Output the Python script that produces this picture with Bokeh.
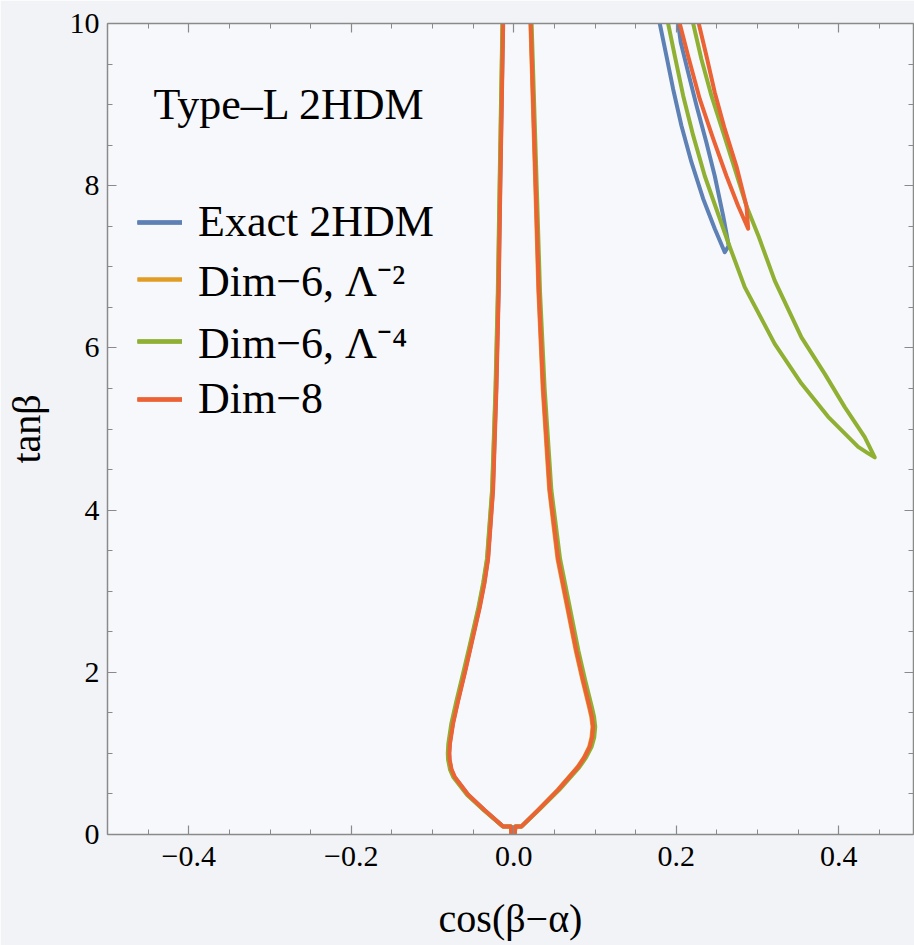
from bokeh.plotting import figure
from bokeh.models import FixedTicker, LinearAxis, Legend, LegendItem, Label, Range1d
from bokeh.embed import file_html
from bokeh.resources import INLINE

# ---------------- data ----------------
SERIES = ["Exact 2HDM", "Dim\u22126, \u039b\u207b\u00b2", "Dim\u22126, \u039b\u207b\u2074", "Dim\u22128"]
COLORS = ["#5E81B5", "#E19C24", "#8FB032", "#EB6235"]

FUNNEL_LEFT_TANB = [10, 8, 6.7, 5.5, 4.25, 3.4, 3.1, 2.8, 2.35, 2.0, 1.65, 1.37, 1.12, 1.0, 0.92, 0.8, 0.71, 0.49, 0.30, 0.1, 0.1, 0]
FUNNEL_LEFT_EXACT = [-0.0132, -0.0167, -0.0187, -0.0216, -0.0257, -0.0318, -0.0364, -0.0422, -0.0524, -0.0604, -0.0688, -0.0750, -0.0789, -0.0796, -0.0792, -0.0769, -0.0730, -0.0563, -0.0359, -0.0131, -0.0035, -0.0028]
FUNNEL_LEFT_D6L2 = [-0.0138, -0.0172, -0.0193, -0.0222, -0.0264, -0.0326, -0.0372, -0.0430, -0.0532, -0.0612, -0.0697, -0.0760, -0.0797, -0.0804, -0.0800, -0.0777, -0.0738, -0.0570, -0.0363, -0.0133, -0.0035, -0.0028]
FUNNEL_LEFT_D6L4 = [-0.0140, -0.0175, -0.0196, -0.0225, -0.0267, -0.0330, -0.0377, -0.0435, -0.0538, -0.0620, -0.0705, -0.0768, -0.0805, -0.0812, -0.0808, -0.0784, -0.0745, -0.0575, -0.0368, -0.0135, -0.0035, -0.0028]
FUNNEL_LEFT_D8 = [-0.0130, -0.0165, -0.0185, -0.0213, -0.0254, -0.0315, -0.0360, -0.0418, -0.0520, -0.0600, -0.0684, -0.0746, -0.0785, -0.0792, -0.0788, -0.0765, -0.0726, -0.0560, -0.0357, -0.0130, -0.0035, -0.0028]

FUNNEL_RIGHT_TANB = [10, 8, 6.7, 5.5, 4.25, 3.4, 2.8, 2.27, 1.9, 1.57, 1.45, 1.33, 1.2, 1.08, 0.95, 0.83, 0.55, 0.30, 0.1, 0.1, 0]
FUNNEL_RIGHT_EXACT = [0.0212, 0.0273, 0.0312, 0.0367, 0.0449, 0.0553, 0.0673, 0.0778, 0.0863, 0.0944, 0.0971, 0.0986, 0.0974, 0.0943, 0.0877, 0.0796, 0.0551, 0.0303, 0.0096, 0.0020, 0.0012]
FUNNEL_RIGHT_D6L2 = [0.0205, 0.0265, 0.0303, 0.0356, 0.0436, 0.0538, 0.0657, 0.0762, 0.0846, 0.0927, 0.0954, 0.0969, 0.0957, 0.0928, 0.0864, 0.0784, 0.0541, 0.0297, 0.0094, 0.0020, 0.0012]
FUNNEL_RIGHT_D6L4 = [0.0220, 0.0283, 0.0323, 0.0380, 0.0463, 0.0570, 0.0690, 0.0795, 0.0880, 0.0962, 0.0989, 0.1003, 0.0991, 0.0958, 0.0891, 0.0808, 0.0560, 0.0308, 0.0098, 0.0020, 0.0012]
FUNNEL_RIGHT_D8 = [0.0209, 0.0270, 0.0308, 0.0362, 0.0443, 0.0546, 0.0665, 0.0770, 0.0854, 0.0935, 0.0962, 0.0977, 0.0965, 0.0935, 0.0870, 0.0790, 0.0546, 0.0300, 0.0095, 0.0020, 0.0012]

ISLAND_EXACT_X = [0.1797, 0.1879, 0.1962, 0.2064, 0.2187, 0.2331, 0.2474, 0.2597, 0.2646, 0.2577, 0.2474, 0.2372, 0.2249, 0.2146, 0.2055, 0.2023]
ISLAND_EXACT_Y = [10.0, 9.60, 9.19, 8.74, 8.29, 7.84, 7.47, 7.18, 7.26, 7.63, 8.12, 8.53, 8.99, 9.40, 9.77, 10.0]
ISLAND_D6L4_X = [0.1900, 0.1982, 0.2085, 0.2208, 0.2351, 0.2495, 0.2639, 0.2843, 0.3212, 0.3541, 0.3870, 0.4239, 0.4362, 0.4443,
                 0.4320, 0.4074, 0.3828, 0.3541, 0.3212, 0.3008, 0.2864, 0.2720, 0.2577, 0.2433, 0.2310, 0.2208]
ISLAND_D6L4_Y = [10.0, 9.60, 9.11, 8.62, 8.12, 7.71, 7.30, 6.75, 6.05, 5.56, 5.15, 4.78, 4.70, 4.65,
                 4.90, 5.27, 5.68, 6.13, 6.83, 7.39, 7.75, 8.21, 8.66, 9.11, 9.56, 10.0]
ISLAND_D8_X = [0.2043, 0.2146, 0.2289, 0.2454, 0.2618, 0.2762, 0.2885, 0.2864, 0.2741, 0.2597, 0.2474, 0.2372, 0.2277]
ISLAND_D8_Y = [10.0, 9.60, 9.07, 8.58, 8.12, 7.75, 7.47, 7.75, 8.24, 8.70, 9.15, 9.60, 10.0]

X_MAJOR = [-0.4, -0.2, 0.0, 0.2, 0.4]
X_MAJOR_LABELS = ["\u22120.4", "\u22120.2", "0.0", "0.2", "0.4"]
X_MINOR = [-0.5, -0.45, -0.35, -0.3, -0.25, -0.15, -0.1, -0.05, 0.05, 0.1, 0.15, 0.25, 0.3, 0.35, 0.45]
Y_MAJOR = [0, 2, 4, 6, 8, 10]
Y_MAJOR_LABELS = ["0", "2", "4", "6", "8", "10"]
Y_MINOR = [0.5, 1, 1.5, 2.5, 3, 3.5, 4.5, 5, 5.5, 6.5, 7, 7.5, 8.5, 9, 9.5]

FONT = "Liberation Serif"
AXIS_COLOR = "#8a8a8a"

p = figure(width=914, height=945, x_range=Range1d(-0.5, 0.492), y_range=Range1d(0, 10),
           output_backend="svg", toolbar_location=None,
           min_border_left=107, min_border_right=1, min_border_top=23, min_border_bottom=111,
           background_fill_color="#f7f8fb", border_fill_color="#f2f3f6")
p.grid.visible = False
p.outline_line_color = None

def style_ticks(ax):
    ax.axis_line_color = AXIS_COLOR
    ax.axis_line_width = 1.5
    ax.major_tick_line_color = AXIS_COLOR
    ax.minor_tick_line_color = AXIS_COLOR
    ax.major_tick_line_width = 1.2
    ax.minor_tick_line_width = 1.0
    ax.major_tick_in = 9
    ax.major_tick_out = 0
    ax.minor_tick_in = 5
    ax.minor_tick_out = 0

def style_axis(ax, ticks, minor, labels):
    ax.ticker = FixedTicker(ticks=ticks, minor_ticks=minor)
    style_ticks(ax)
    ax.major_label_overrides = {t: s for t, s in zip(ticks, labels)}
    ax.major_label_text_font = FONT
    ax.major_label_text_font_size = "30px"
    ax.major_label_text_color = "black"

def add_frame_side(side, major, minor):
    a1 = LinearAxis(ticker=FixedTicker(ticks=[], minor_ticks=major))
    style_ticks(a1)
    a1.minor_tick_in = 9
    a1.minor_tick_line_width = 1.2
    a2 = LinearAxis(ticker=FixedTicker(ticks=[], minor_ticks=minor))
    style_ticks(a2)
    a2.axis_line_color = None
    p.add_layout(a1, side)
    p.add_layout(a2, side)

style_axis(p.xaxis[0], X_MAJOR, X_MINOR, X_MAJOR_LABELS)
style_axis(p.yaxis[0], Y_MAJOR, Y_MINOR, Y_MAJOR_LABELS)
p.xaxis[0].major_label_standoff = 12
p.yaxis[0].major_label_standoff = 8

p.xaxis[0].axis_label = "cos(\u03b2\u2212\u03b1)"
p.yaxis[0].axis_label = "tan\u03b2"
for ax in (p.xaxis[0], p.yaxis[0]):
    ax.axis_label_text_font = FONT
    ax.axis_label_text_font_size = "40px"
    ax.axis_label_text_font_style = "normal"
    ax.axis_label_text_color = "black"
p.xaxis[0].axis_label_standoff = 27
p.yaxis[0].axis_label_standoff = 18

add_frame_side("above", X_MAJOR, X_MINOR)
add_frame_side("right", Y_MAJOR, Y_MINOR)

left_x = [FUNNEL_LEFT_EXACT, FUNNEL_LEFT_D6L2, FUNNEL_LEFT_D6L4, FUNNEL_LEFT_D8]
right_x = [FUNNEL_RIGHT_EXACT, FUNNEL_RIGHT_D6L2, FUNNEL_RIGHT_D6L4, FUNNEL_RIGHT_D8]
islands = [(ISLAND_EXACT_X, ISLAND_EXACT_Y), None, (ISLAND_D6L4_X, ISLAND_D6L4_Y), (ISLAND_D8_X, ISLAND_D8_Y)]

LW = 4
items = []
for i, (name, col) in enumerate(zip(SERIES, COLORS)):
    rs = [p.line(left_x[i], FUNNEL_LEFT_TANB, line_color=col, line_width=LW, line_join="round"),
          p.line(right_x[i], FUNNEL_RIGHT_TANB, line_color=col, line_width=LW, line_join="round")]
    if islands[i] is not None:
        rs.append(p.line(islands[i][0], islands[i][1], line_color=col, line_width=LW, line_join="round"))
    items.append(LegendItem(label=name, renderers=rs))

legend = Legend(items=items, location=(30, 410), padding=0, margin=0, spacing=2,
                glyph_width=45, glyph_height=40, label_height=40, label_standoff=16,
                label_text_font=FONT, label_text_font_size="44px", label_text_color="black",
                background_fill_alpha=0, border_line_alpha=0)
p.add_layout(legend)

title = Label(x=-0.4435, y=9.0, text="Type\u2013L 2HDM", text_font=FONT, text_font_size="44px",
              text_baseline="alphabetic", text_color="black")
p.add_layout(title)

open("out.html", "w").write(file_html(p, INLINE))
